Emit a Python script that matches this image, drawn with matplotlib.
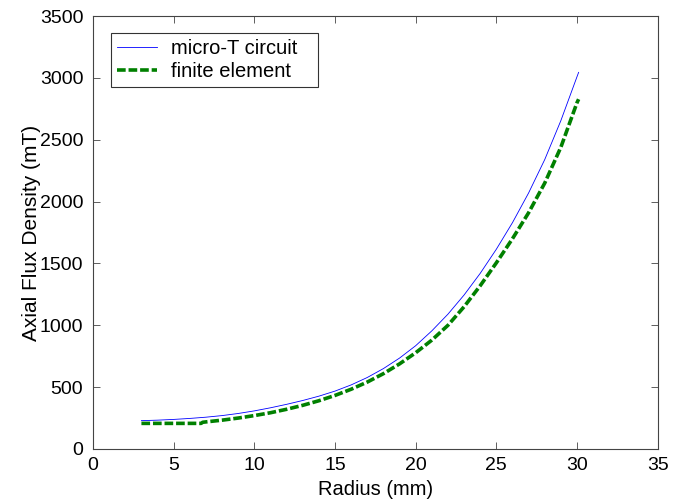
import matplotlib
matplotlib.use("Agg")
import matplotlib.pyplot as plt

plt.rcParams['font.family'] = ['Liberation Sans', 'DejaVu Sans']

radius_micro = [3, 4, 5, 6, 7, 8, 9, 10, 11, 12, 13, 14, 15, 16, 17, 18, 19, 20,
                21, 22, 23, 24, 25, 26, 27, 28, 29, 30, 30.1]
flux_micro = [229, 233, 239, 247, 257, 270, 287, 308, 333, 361, 392, 427, 468, 518,
              578, 650, 735, 835, 955, 1090, 1245, 1420, 1615, 1830, 2070, 2340,
              2655, 3010, 3045]

radius_fe = [3, 4, 5, 6, 6.7, 6.8, 7, 8, 9, 10, 11, 12, 13, 14, 15, 16, 17, 18, 19,
             20, 21, 22, 23, 24, 25, 26, 27, 28, 29, 30, 30.1]
flux_fe = [207, 207, 207, 207, 207, 216, 219, 233, 250, 270, 293, 321, 353, 390,
           433, 483, 541, 609, 688, 778, 880, 1000, 1150, 1320, 1505, 1700, 1910,
           2150, 2440, 2800, 2828]

xticks = [0, 5, 10, 15, 20, 25, 30, 35]
yticks = [0, 500, 1000, 1500, 2000, 2500, 3000, 3500]

fig = plt.figure(figsize=(6.84, 5.03), dpi=100)
ax = fig.add_axes([0.136, 0.1074, 0.8255, 0.8606])

ax.plot(radius_micro, flux_micro, color='#0000ff', lw=0.6, label='micro-T circuit')
ax.plot(radius_fe, flux_fe, color='#008000', lw=2.6, ls=(0, (2.4, 0.8)),
        label='finite element')

ax.set_xlim(0, 35)
ax.set_ylim(0, 3500)
ax.set_xticks(xticks)
ax.set_yticks(yticks)
ax.tick_params(direction='in', top=True, right=True, length=5, width=0.6,
               labelsize=14, color='#444444')
ax.tick_params(axis='y', pad=7)
ax.tick_params(axis='x', pad=6)
for s in ax.spines.values():
    s.set_color('#444444')
    s.set_linewidth(0.8)

ax.set_xlabel('Radius (mm)', fontsize=14.5, labelpad=4)
ax.set_ylabel('Axial Flux Density (mT)', fontsize=15, labelpad=-1)

leg = ax.legend(loc='upper left', bbox_to_anchor=(0.032, 0.961, 0.3666, 0.0),
                mode='expand', fontsize=14.5,
                frameon=True, fancybox=False, edgecolor='black', handlelength=2.0,
                borderpad=0.3, labelspacing=0.2, handletextpad=0.65,
                borderaxespad=0)
leg.get_frame().set_linewidth(0.8)

fig.savefig('out.png', dpi=100)
